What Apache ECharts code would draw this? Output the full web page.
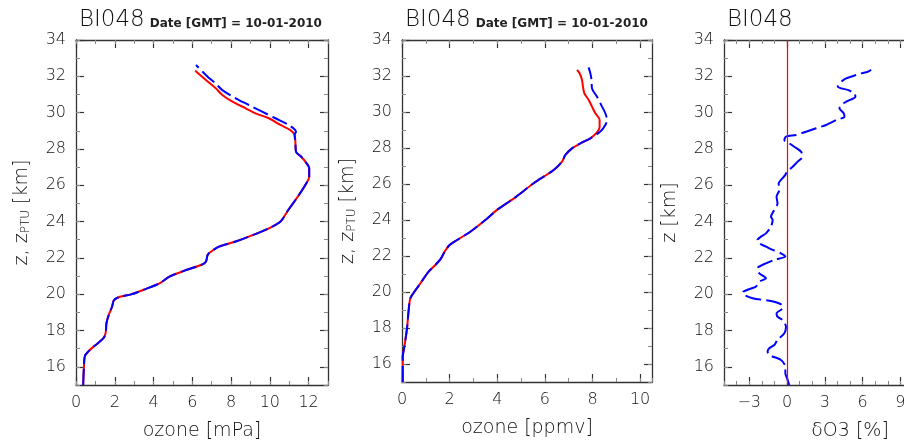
<!DOCTYPE html>
<html lang="en">

<head>
  <meta charset="UTF-8">
  <title>BI048 ozone profile</title>
  <script src="https://cdn.jsdelivr.net/npm/echarts@6/dist/echarts.min.js"></script>
  <style>
    body { margin: 0; background: #fff; }
    #main { width: 904px; height: 440px; }
  </style>
</head>

<body>
  <div id="main"></div>

  <script>
    // sonde id + launch date
    var station = 'BI048'
    var launchDate = 'Date [GMT] = 10-01-2010'

    // tick labels
    var kmTicks = [16, 18, 20, 22, 24, 26, 28, 30, 32, 34]
    var mpaTicks = [0, 2, 4, 6, 8, 10, 12]
    var ppmvTicks = [0, 2, 4, 6, 8, 10]
    var diffTicks = [-3, 0, 3, 6, 9, 12, 15]

    // ozone partial pressure [mPa] vs altitude [km], both profiles equal below ~28.8 km
    var mpaLow = [[0.37, 15.0], [0.41, 16.0], [0.46, 16.6], [0.63, 16.84], [0.89, 17.1], [1.23, 17.39], [1.45, 17.63],
      [1.54, 17.94], [1.57, 18.4], [1.69, 18.86], [1.86, 19.31], [1.96, 19.68], [2.26, 19.86], [2.85, 19.99],
      [3.45, 20.23], [4.31, 20.6], [4.82, 20.97], [5.68, 21.33], [6.45, 21.61], [6.7, 21.79], [6.79, 22.16],
      [6.96, 22.34], [7.38, 22.62], [8.24, 22.9], [8.92, 23.17], [9.95, 23.63], [10.55, 24.0], [10.95, 24.64],
      [11.38, 25.28], [11.83, 26.02], [12.03, 26.47], [12.03, 26.93], [11.83, 27.3], [11.62, 27.57],
      [11.35, 27.85], [11.32, 28.31], [11.28, 28.77]]
    var mpaRedTop = [[11.06, 29.04], [10.55, 29.32], [9.95, 29.69], [9.26, 29.96], [8.75, 30.24], [8.07, 30.6],
      [7.55, 30.97], [7.21, 31.34], [6.7, 31.8], [6.15, 32.31]]
    var mpaBlueTop = [[11.35, 28.95], [10.97, 29.32], [10.29, 29.69], [9.6, 30.05], [8.92, 30.42], [8.24, 30.79],
      [7.55, 31.24], [7.21, 31.6], [6.79, 31.98], [6.19, 32.62]]

    // ozone mixing ratio [ppmv]
    var ppmvLow = [[0.03, 15.0], [0.03, 16.41], [0.1, 16.96], [0.21, 17.98], [0.28, 19.0], [0.35, 19.65],
      [0.49, 19.96], [0.77, 20.48], [1.12, 21.13], [1.4, 21.5], [1.64, 21.87], [1.79, 22.24], [2.0, 22.61],
      [2.31, 22.89], [2.87, 23.35], [3.5, 24.0], [3.99, 24.56], [4.7, 25.2], [5.53, 26.04], [6.37, 26.78],
      [6.72, 27.24], [6.86, 27.61], [7.14, 27.98], [7.49, 28.26], [7.91, 28.54]]
    var ppmvRedTop = [[8.16, 28.82], [8.3, 29.18], [8.3, 29.56], [8.12, 29.93], [7.98, 30.3], [7.84, 30.67],
      [7.66, 31.04], [7.6, 31.41], [7.56, 31.78], [7.46, 32.15], [7.35, 32.33]]
    var ppmvBlueTop = [[8.33, 28.91], [8.54, 29.28], [8.61, 29.56], [8.54, 29.93], [8.4, 30.3], [8.19, 30.85],
      [7.98, 31.31], [7.96, 31.78], [7.91, 32.15], [7.84, 32.48]]

    // relative difference dO3 [%]
    var diffO3 = [[0.18, 15.0], [0.05, 15.28], [-0.13, 15.65], [-0.13, 16.01], [-0.48, 16.38], [-1.41, 16.65],
      [-1.54, 16.84], [-1.41, 17.02], [-1.01, 17.2], [-0.75, 17.48], [-0.21, 17.85], [-0.08, 18.21],
      [-0.35, 18.58], [-0.75, 18.76], [-0.83, 18.95], [-0.35, 19.23], [-0.4, 19.41], [-1.01, 19.59],
      [-2.74, 19.78], [-3.4, 19.96], [-3.5, 20.1], [-2.47, 20.42], [-2.2, 20.69], [-1.67, 20.88], [-2.2, 21.15],
      [-2.34, 21.43], [-1.67, 21.7], [-1.01, 21.89], [-0.13, 22.07], [-0.48, 22.25], [-1.14, 22.44],
      [-1.67, 22.62], [-2.2, 22.8], [-2.34, 22.99], [-2.07, 23.17], [-1.67, 23.35], [-1.27, 23.72],
      [-1.14, 24.09], [-1.27, 24.27], [-1.01, 24.64], [-0.75, 25.0], [-0.83, 25.37], [-0.61, 25.74],
      [-0.66, 26.11], [-0.48, 26.29], [-0.13, 26.57], [0, 26.75], [0.45, 27.02], [0.85, 27.3], [1.24, 27.57],
      [1.11, 27.85], [0.58, 28.12], [0.18, 28.31], [-0.21, 28.49], [-0.08, 28.68], [0.71, 28.77], [1.51, 28.95],
      [2.31, 29.14], [3.1, 29.32], [3.9, 29.59], [4.56, 29.78], [4.5, 29.96], [4.16, 30.24], [4.3, 30.42],
      [4.69, 30.6], [5.43, 30.88], [5.35, 31.06], [4.82, 31.25], [4.03, 31.43], [4.3, 31.7], [4.69, 31.89],
      [5.49, 32.07], [5.89, 32.16], [6.41, 32.25], [6.68, 32.35]]

    var font = 'DejaVu Sans'
    var ink = '#333'
    var textInk = '#111'

    var mCharts = echarts.init(document.getElementById('main'))

    // one grid = 4 major axes (with line) + 4 minor-tick axes, ticks all inward
    function axisPair(grid, pos, min, max, majors, show, name, nameGap) {
      var major = {
        type: 'value', gridIndex: grid, position: pos, min: min, max: max,
        axisLine: { show: true, onZero: false, lineStyle: { color: ink, width: 1.3 } },
        axisTick: { show: true, inside: true, length: 8, customValues: majors, lineStyle: { color: ink, width: 1.2 } },
        axisLabel: {
          show: show, customValues: majors, margin: 10, fontFamily: font, fontSize: 16, fontWeight: 200, color: textInk,
          formatter: function (v) { return v < 0 ? '\u2212' + (-v) : '' + v }
        },
        splitLine: { show: false }
      }
      if (name) {
        major.name = name.text
        major.nameLocation = 'middle'
        major.nameGap = nameGap
        major.nameTextStyle = { fontFamily: font, fontSize: 19, fontWeight: 200, color: textInk, rich: name.rich }
      }
      var minor = {
        type: 'value', gridIndex: grid, position: pos, min: min, max: max, interval: 1,
        axisLine: { show: false, onZero: false },
        axisTick: { show: true, inside: true, length: 4, lineStyle: { color: '#888', width: 1 } },
        axisLabel: { show: false },
        splitLine: { show: false }
      }
      return [major, minor]
    }

    var subRich = {
      sub: { fontFamily: font, fontSize: 12, fontWeight: 200, color: textInk, padding: [0, 0, -6, 0] }
    }

    var grids = [
      { left: 76, top: 40, width: 252, height: 345, outerBoundsMode: 'none' },
      { left: 402, top: 40, width: 250, height: 342, outerBoundsMode: 'none' },
      { left: 724, top: 40, width: 252, height: 345, outerBoundsMode: 'none' }
    ]
    var xRanges = [[0, 13, mpaTicks, 'ozone [mPa]'], [0, 10.5, ppmvTicks, 'ozone [ppmv]'], [-5, 15, diffTicks, '\u03b4O3 [%]']]
    var yNames = [
      { text: 'z, z{sub|PTU} [km]', rich: subRich },
      { text: 'z, z{sub|PTU} [km]', rich: subRich },
      { text: 'z [km]' }
    ]

    var xAxis = []
    var yAxis = []
    for (var g = 0; g < 3; g++) {
      var r = xRanges[g]
      // index 4*g = bottom major (used by series)
      xAxis = xAxis.concat(axisPair(g, 'bottom', r[0], r[1], r[2], true, { text: r[3] }, 37))
      xAxis = xAxis.concat(axisPair(g, 'top', r[0], r[1], r[2], false))
      yAxis = yAxis.concat(axisPair(g, 'left', 15, 34, kmTicks, true, yNames[g], 44))
      yAxis = yAxis.concat(axisPair(g, 'right', 15, 34, kmTicks, false))
    }

    function profile(g, data, color, dashed, smooth) {
      return {
        type: 'line', xAxisIndex: 4 * g, yAxisIndex: 4 * g, data: data,
        showSymbol: false, smooth: smooth, silent: true, animation: false,
        lineStyle: { color: color, width: 2, type: dashed ? [16, 5] : 'solid' }
      }
    }

    // zero reference line of the difference panel
    var zeroRef = {
      type: 'line', xAxisIndex: 8, yAxisIndex: 8, data: [], silent: true,
      markLine: {
        silent: true, symbol: ['none', 'none'], animation: false, label: { show: false },
        lineStyle: { color: '#ff0000', width: 1.2, type: 'solid', opacity: 1 },
        emphasis: { disabled: true },
        data: [{ xAxis: 0 }]
      }
    }

    function titleFor(left, withDate) {
      return {
        left: left, top: 4,
        text: withDate ? '{a|' + station + '} {b|' + launchDate + '}' : '{a|' + station + '}',
        textStyle: {
          fontWeight: 'normal',
          rich: {
            a: { fontFamily: font, fontSize: 23, fontWeight: 200, color: textInk, verticalAlign: 'bottom' },
            b: { fontFamily: font, fontSize: 12, fontWeight: 'bold', color: '#222', verticalAlign: 'bottom', padding: [0, 0, 2, 0] }
          }
        }
      }
    }

    var option = {
      animation: false,
      backgroundColor: '#fff',
      title: [titleFor(74, true), titleFor(400, true), titleFor(722, false)],
      grid: grids,
      xAxis: xAxis,
      yAxis: yAxis,
      series: [
        profile(0, mpaLow.concat(mpaRedTop), '#ff0000', false, 0.3),
        profile(0, mpaLow.concat(mpaBlueTop), '#0000ff', true, 0.3),
        profile(1, ppmvLow.concat(ppmvRedTop), '#ff0000', false, 0.3),
        profile(1, ppmvLow.concat(ppmvBlueTop), '#0000ff', true, 0.3),
        profile(2, diffO3, '#0000ff', true, 0.25),
        zeroRef
      ]
    }
    mCharts.setOption(option)
  </script>
</body>

</html>
